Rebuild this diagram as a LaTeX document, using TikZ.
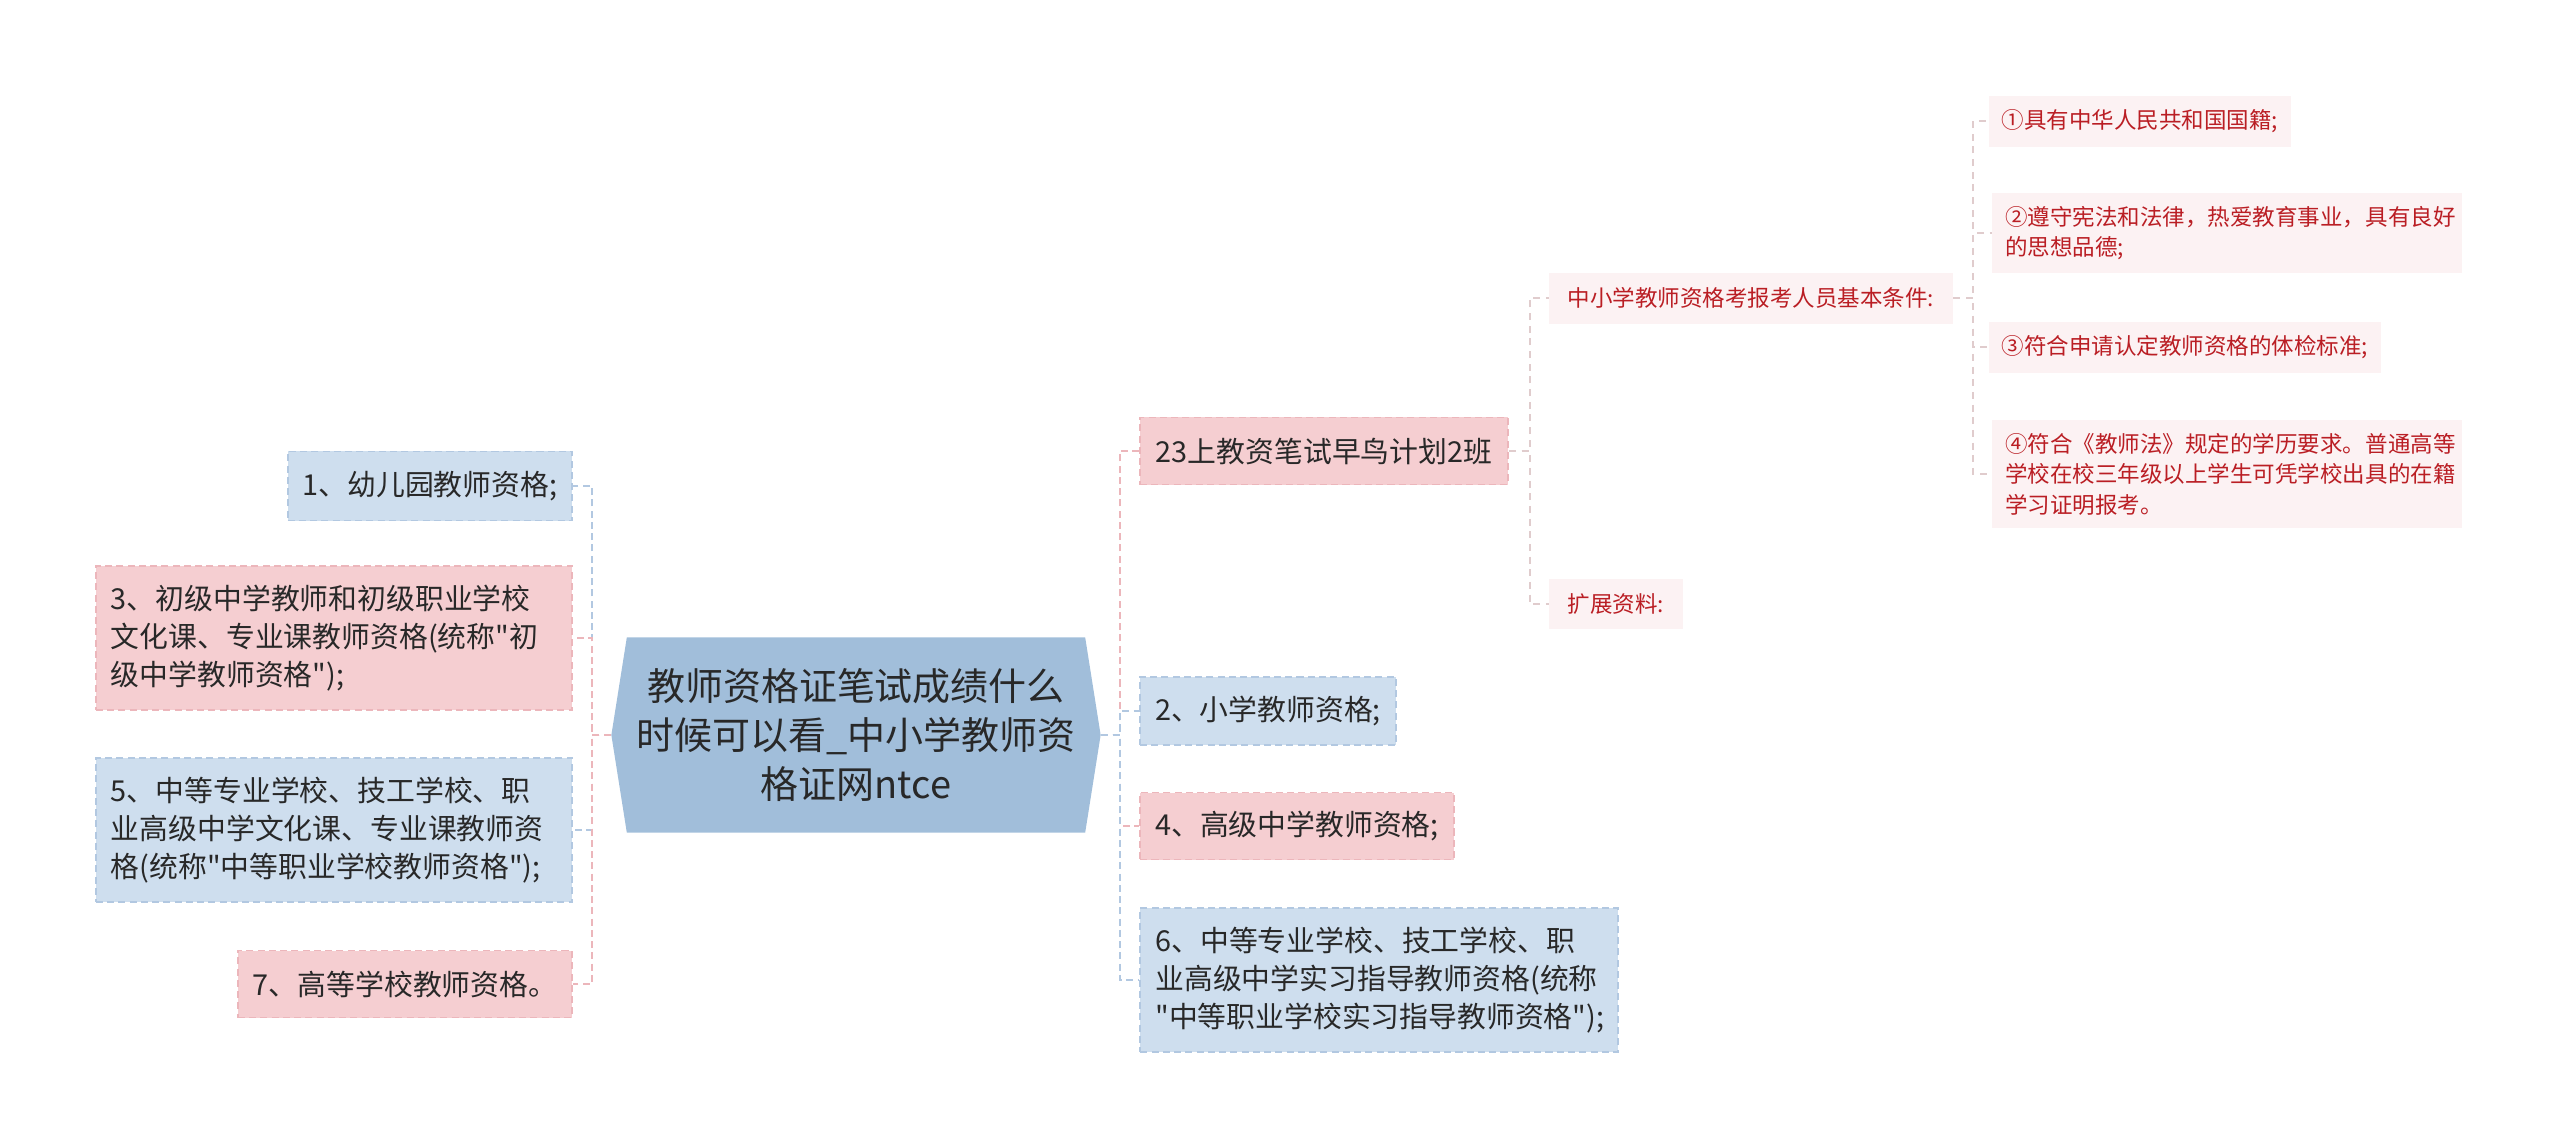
\documentclass[tikz,border=0pt]{standalone}
\usepackage{fontspec}
\setmainfont{Noto Sans CJK SC}[Ligatures=TeXOff]
\usepackage{tikz}
\usetikzlibrary{shapes.symbols, positioning, calc}
\definecolor{rootblue}{RGB}{161,190,218}
\definecolor{nodeblue}{RGB}{206,222,238}
\definecolor{lineblue}{RGB}{178,200,225}
\definecolor{nodepink}{RGB}{245,206,209}
\definecolor{linepink}{RGB}{236,182,187}
\definecolor{softpink}{RGB}{252,242,243}
\definecolor{softred}{RGB}{186,30,36}
\definecolor{softline}{RGB}{224,204,205}
\definecolor{inkgray}{RGB}{40,40,40}

\begin{document}
\begin{tikzpicture}[x=0.01cm, y=-0.01cm, align=left,
  root node/.style={shape=signal, signal to=west and east, signal pointer angle=162,
    fill=rootblue, text=inkgray, font=\fontsize{10.8}{13.9}\selectfont, align=center,
    minimum width=4.89cm, minimum height=1.95cm, inner sep=0pt},
  sq node/.style={rectangle, draw, line width=0.5pt, dash pattern=on 2pt off 1.2pt,
    text=inkgray, font=\fontsize{8.2}{10.7}\selectfont, inner xsep=0.15cm, inner ysep=0pt},
  blue node/.style={sq node, fill=nodeblue, draw=lineblue},
  pink node/.style={sq node, fill=nodepink, draw=linepink},
  soft node/.style={rectangle, fill=softpink, text=softred,
    font=\fontsize{6.4}{8.7}\selectfont, inner xsep=0.13cm, inner ysep=0pt},
  blue link/.style={draw=lineblue, line width=0.6pt, dash pattern=on 2pt off 1.2pt},
  pink link/.style={draw=linepink, line width=0.6pt, dash pattern=on 2pt off 1.2pt},
  soft link/.style={draw=softline, line width=0.5pt, dash pattern=on 2pt off 1.6pt}]
  \useasboundingbox (0,0) rectangle (2560,1147);

  \node[root node] (0) at (856,735) {教师资格证笔试成绩什么\\时候可以看\_中小学教师资\\格证网ntce};

  % left side
  \node[blue node, minimum width=2.83cm, minimum height=0.69cm] (1) at (430,486) {1、幼儿园教师资格;};
  \node[pink node, minimum width=4.76cm, minimum height=1.44cm, text width=4.46cm] (3) at (334,638)
    {3、初级中学教师和初级职业学校\\文化课、专业课教师资格(统称"初\\级中学教师资格");};
  \node[blue node, minimum width=4.76cm, minimum height=1.44cm, text width=4.46cm] (5) at (334,830)
    {5、中等专业学校、技工学校、职\\业高级中学文化课、专业课教师资\\格(统称"中等职业学校教师资格");};
  \node[pink node, minimum width=3.34cm, minimum height=0.67cm] (7) at (405,984) {7、高等学校教师资格。};

  % right side
  \node[pink node, minimum width=3.68cm, minimum height=0.67cm] (8) at (1324,451) {23上教资笔试早鸟计划2班};
  \node[blue node, minimum width=2.55cm, minimum height=0.68cm] (2) at (1268,711) {2、小学教师资格;};
  \node[pink node, minimum width=3.12cm, minimum height=0.67cm] (4) at (1297,826) {4、高级中学教师资格;};
  \node[blue node, minimum width=4.77cm, minimum height=1.44cm, text width=4.47cm] (6) at (1379,980)
    {6、中等专业学校、技工学校、职\\业高级中学实习指导教师资格(统称\\"中等职业学校实习指导教师资格");};

  \node[soft node, minimum width=4.03cm, minimum height=0.51cm] (9) at (1751,298) {中小学教师资格考报考人员基本条件:};
  \node[soft node, minimum width=1.33cm, minimum height=0.5cm] (10) at (1616,604) {扩展资料:};

  \node[soft node, minimum width=2.95cm, minimum height=0.51cm] (11) at (2140,121) {①具有中华人民共和国国籍;};
  \node[soft node, minimum width=4.69cm, minimum height=0.79cm, text width=4.43cm] (12) at (2227,233)
    {②遵守宪法和法律，热爱教育事业，具有良好\\的思想品德;};
  \node[soft node, minimum width=3.85cm, minimum height=0.51cm] (13) at (2185,347) {③符合申请认定教师资格的体检标准;};
  \node[soft node, minimum width=4.69cm, minimum height=1.08cm, text width=4.43cm] (14) at (2227,474)
    {④符合《教师法》规定的学历要求。普通高等\\学校在校三年级以上学生可凭学校出具的在籍\\学习证明报考。};

  \draw[blue link] (0.west) -- ++(-19,0) |- (1.east);
  \draw[pink link] (0.west) -- ++(-19,0) |- (3.east);
  \draw[blue link] (0.west) -- ++(-19,0) |- (5.east);
  \draw[pink link] (0.west) -- ++(-19,0) |- (7.east);
  \draw[pink link] (0.east) -- ++(19,0) |- (8.west);
  \draw[blue link] (0.east) -- ++(19,0) |- (2.west);
  \draw[pink link] (0.east) -- ++(19,0) |- (4.west);
  \draw[blue link] (0.east) -- ++(19,0) |- (6.west);
  \draw[soft link] (8.east) -- ++(21,0) |- (9.west);
  \draw[soft link] (8.east) -- ++(21,0) |- (10.west);
  \draw[soft link] (9.east) -- ++(20,0) |- (11.west);
  \draw[soft link] (9.east) -- ++(20,0) |- (12.west);
  \draw[soft link] (9.east) -- ++(20,0) |- (13.west);
  \draw[soft link] (9.east) -- ++(20,0) |- (14.west);
\end{tikzpicture}
\end{document}
